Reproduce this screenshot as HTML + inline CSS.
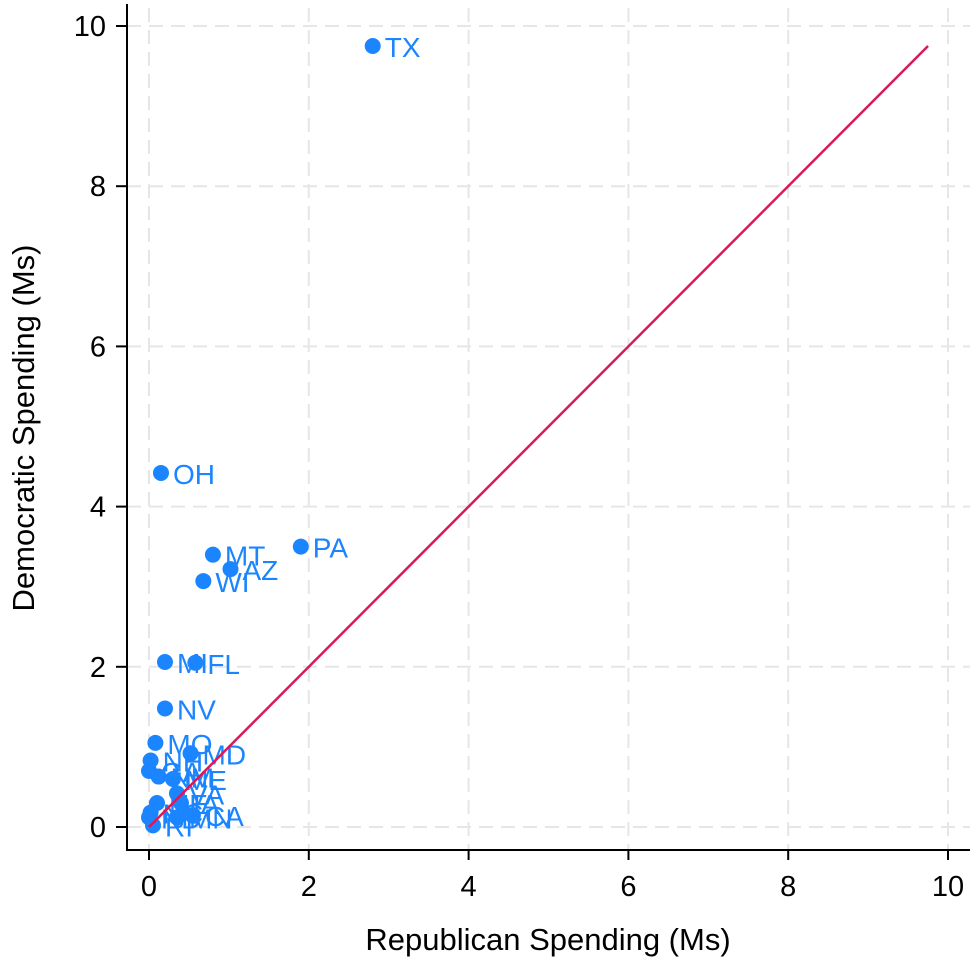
<!DOCTYPE html>
<html><head><meta charset="utf-8"><style>
html,body{margin:0;padding:0;background:#fff;}
svg{display:block;font-family:"Liberation Sans",Arial,sans-serif;}
</style></head><body>
<svg id="chart" width="974" height="962">
<g id="grid"></g>
<g id="axes"></g>
<g id="marks"></g>
<text x="548" y="950" text-anchor="middle" font-size="31" fill="#000">Republican Spending (Ms)</text>
<text transform="translate(34,428) rotate(-90)" text-anchor="middle" font-size="31" fill="#000">Democratic Spending (Ms)</text>
</svg>
<script>
const states = ["TX","OH","PA","MT","AZ","WI","MI","FL","NV","MO","NH","MD","GA","NM","ME","VA","IA","NE","CA","MN","NC","ND","RI"];
const repSpend = [2.8,0.15,1.9,0.8,1.02,0.68,0.2,0.58,0.2,0.08,0.02,0.52,0.0,0.12,0.3,0.35,0.4,0.1,0.55,0.35,0.02,0.0,0.05];
const demSpend = [9.75,4.42,3.5,3.4,3.22,3.07,2.06,2.05,1.48,1.05,0.83,0.92,0.7,0.63,0.6,0.42,0.3,0.3,0.15,0.12,0.18,0.12,0.02];
const ticks = [0,2,4,6,8,10];
const lineMax = 9.75;
const NS="http://www.w3.org/2000/svg";
const X0=149, XS=79.9, Y0=827, YS=80.1;
const sx=v=>X0+v*XS, sy=v=>Y0-v*YS;
function mk(tag,attrs,parent){const e=document.createElementNS(NS,tag);for(const k in attrs)e.setAttribute(k,attrs[k]);parent.appendChild(e);return e;}
const grid=document.getElementById('grid'),axes=document.getElementById('axes'),marks=document.getElementById('marks');
ticks.forEach(t=>{
  const gv=mk('line',{x1:sx(t),x2:sx(t),y1:8,y2:850,stroke:'#e6e6e6','stroke-width':2,'stroke-dasharray':'14 8'},grid);
  
  
  const gh=mk('line',{x1:127,x2:970,y1:sy(t),y2:sy(t),stroke:'#e6e6e6','stroke-width':2,'stroke-dasharray':'14 8'},grid);
  
  
  const tx=mk('line',{x1:sx(t),x2:sx(t),y1:850,y2:860,stroke:'#000','stroke-width':2},axes);
  
  
  const lx=mk('text',{x:sx(t),y:896,'text-anchor':'middle','font-size':29,fill:'#000'},axes);
  lx.textContent=t;
  
  
  const ty=mk('line',{x1:116,x2:127,y1:sy(t),y2:sy(t),stroke:'#000','stroke-width':2},axes);
  
  
  const ly=mk('text',{x:106,y:sy(t)+10,'text-anchor':'end','font-size':29,fill:'#000'},axes);
  ly.textContent=t;
  
  
});
const ax=mk('path',{d:'M127 4 V850 H970',fill:'none',stroke:'#000','stroke-width':2},axes);


states.forEach((s,i)=>{
  const c=mk('circle',{cx:sx(repSpend[i]),cy:sy(demSpend[i]),r:8,fill:'#1a85ff'},marks);
  
  
  const t=mk('text',{x:sx(repSpend[i])+12,y:sy(demSpend[i])+11,'font-size':28,fill:'#1a85ff'},marks);
  t.textContent=s;
  
  
});
const ln=mk('line',{x1:sx(0),y1:sy(0),x2:sx(lineMax),y2:sy(lineMax),stroke:'#d9195a','stroke-width':2.5},marks);


</script>
</body></html>
